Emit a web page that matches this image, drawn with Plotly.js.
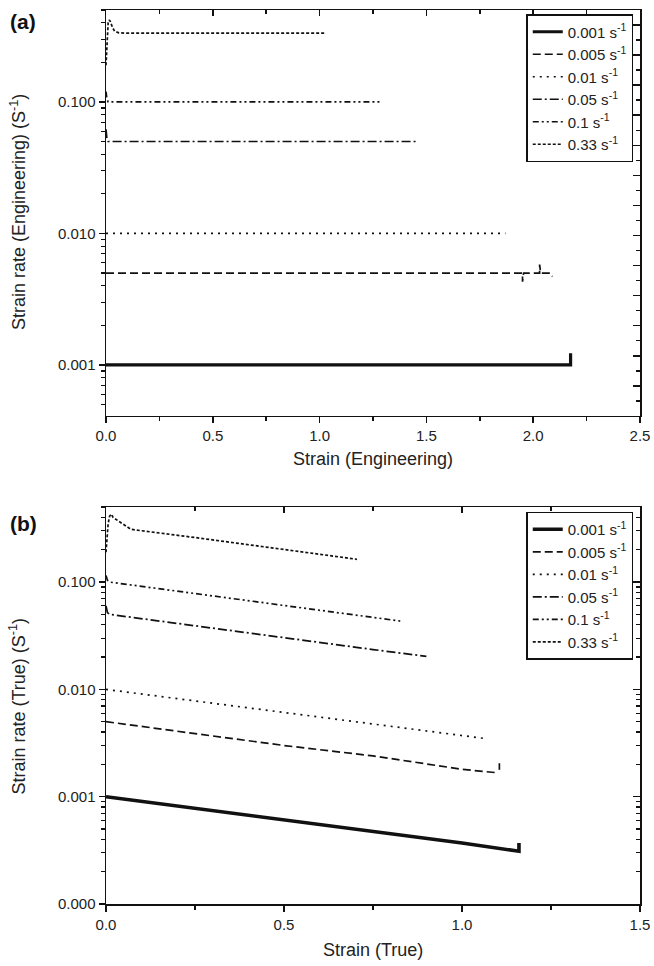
<!DOCTYPE html>
<html>
<head>
<meta charset="utf-8">
<script src="https://cdn.plot.ly/plotly-3.0.1.min.js"></script>
<style>
html,body{margin:0;padding:0;background:#fff;}
#chart{width:654px;height:966px;}
</style>
</head>
<body>
<div id="chart"></div>
<script>
// ---------- data ----------
const rateNames = ['0.001 s<sup>-1</sup>', '0.005 s<sup>-1</sup>', '0.01 s<sup>-1</sup>',
                   '0.05 s<sup>-1</sup>', '0.1 s<sup>-1</sup>', '0.33 s<sup>-1</sup>'];

// (a) engineering strain vs engineering strain rate
const engX_0001 = [0, 0.5, 1.0, 1.5, 2.0, 2.175, 2.175];
const engY_0001 = [0.001, 0.001, 0.001, 0.001, 0.001, 0.001, 0.00123];
const engX_0005 = [0, 0.5, 1.0, 1.5, 1.95, 1.95, 1.955, 2.03, 2.03, 2.035, 2.08, 2.09];
const engY_0005 = [0.005, 0.005, 0.005, 0.005, 0.005, 0.0043, 0.005, 0.005, 0.0058, 0.005, 0.005, 0.0047];
const engX_001 = [0, 0.5, 1.0, 1.5, 1.87];
const engY_001 = [0.01, 0.01, 0.01, 0.01, 0.01];
const engX_005 = [0, 0.004, 0.01, 0.5, 1.0, 1.46];
const engY_005 = [0.062, 0.053, 0.05, 0.05, 0.05, 0.05];
const engX_01 = [0, 0.004, 0.01, 0.5, 1.0, 1.29];
const engY_01 = [0.12, 0.106, 0.1, 0.1, 0.1, 0.1];
const engX_033 = [0, 0.003, 0.006, 0.01, 0.015, 0.02, 0.03, 0.04, 0.06, 0.1, 0.5, 1.03];
const engY_033 = [0.19, 0.26, 0.34, 0.40, 0.42, 0.41, 0.37, 0.345, 0.335, 0.333, 0.333, 0.333];

// (b) true strain vs true strain rate
const trueX_0001 = [0, 0.25, 0.5, 0.75, 1.0, 1.16, 1.16];
const trueY_0001 = [0.001, 0.00078, 0.00061, 0.00047, 0.00037, 0.00031, 0.00037];
const trueX_0005 = [0, 0.25, 0.5, 0.75, 1.0, 1.10, null, 1.105, 1.105];
const trueY_0005 = [0.005, 0.0039, 0.0030, 0.0024, 0.0018, 0.00167, null, 0.00178, 0.00205];
const trueX_001 = [0, 0.25, 0.5, 0.75, 1.0, 1.06];
const trueY_001 = [0.01, 0.0078, 0.0061, 0.0047, 0.0037, 0.0035];
const trueX_005 = [0, 0.004, 0.01, 0.25, 0.5, 0.75, 0.90];
const trueY_005 = [0.06, 0.052, 0.05, 0.039, 0.030, 0.0235, 0.0203];
const trueX_01 = [0, 0.004, 0.01, 0.25, 0.5, 0.75, 0.834];
const trueY_01 = [0.115, 0.104, 0.1, 0.078, 0.061, 0.047, 0.043];
const trueX_033 = [0, 0.003, 0.006, 0.01, 0.015, 0.02, 0.04, 0.07, 0.25, 0.5, 0.705];
const trueY_033 = [0.19, 0.27, 0.35, 0.41, 0.43, 0.40, 0.36, 0.31, 0.26, 0.20, 0.163];

const engX = [engX_0001, engX_0005, engX_001, engX_005, engX_01, engX_033];
const engY = [engY_0001, engY_0005, engY_001, engY_005, engY_01, engY_033];
const trueX = [trueX_0001, trueX_0005, trueX_001, trueX_005, trueX_01, trueX_033];
const trueY = [trueY_0001, trueY_0005, trueY_001, trueY_005, trueY_01, trueY_033];

// ---------- styles ----------
const dashes = ['solid', '8px,4px', '2px,5px', '9px,3px,2px,3px', '6px,3px,2px,3px,2px,3px', '3px,2px'];
const widthsA = [3.2, 1.7, 1.7, 1.7, 1.7, 1.7];
const widthsB = [3.6, 1.7, 1.7, 1.7, 1.7, 1.7];
const ink = '#111';
const font = 'Liberation Sans, Arial, Helvetica, sans-serif';

const traces = [];
for (let i = 0; i < 6; i++) {
  traces.push({
    x: engX[i], y: engY[i], xaxis: 'x', yaxis: 'y', type: 'scatter', mode: 'lines',
    name: rateNames[i], legend: 'legend', connectgaps: false,
    line: {color: ink, width: widthsA[i], dash: dashes[i]}
  });
}
for (let i = 0; i < 6; i++) {
  traces.push({
    x: trueX[i], y: trueY[i], xaxis: 'x2', yaxis: 'y2', type: 'scatter', mode: 'lines',
    name: rateNames[i], legend: 'legend2', connectgaps: false,
    line: {color: ink, width: widthsB[i], dash: dashes[i]}
  });
}
// empty helpers so the mirrored (top/right) tick axes are drawn
traces.push({x: [null], y: [null], xaxis: 'x3', yaxis: 'y', showlegend: false, hoverinfo: 'skip', mode: 'lines'});
traces.push({x: [null], y: [null], xaxis: 'x', yaxis: 'y3', showlegend: false, hoverinfo: 'skip', mode: 'lines'});
traces.push({x: [null], y: [null], xaxis: 'x4', yaxis: 'y2', showlegend: false, hoverinfo: 'skip', mode: 'lines'});
traces.push({x: [null], y: [null], xaxis: 'x2', yaxis: 'y4', showlegend: false, hoverinfo: 'skip', mode: 'lines'});

// minor tick positions for log axes (2..9 in each decade)
const logMinor = [];
for (let d = -5; d <= 0; d++) for (let m = 2; m <= 9; m++) logMinor.push(m * Math.pow(10, d));

const tickFont = {family: font, size: 15, color: '#222'};
const baseX = {
  showgrid: false, zeroline: false, showline: true, linewidth: 1.5, linecolor: ink, mirror: true,
  ticks: 'outside', ticklen: 6, tickwidth: 1.5, tickcolor: ink, dtick: 0.5, tickformat: '.1f',
  minor: {dtick: 0.25, ticks: 'outside', ticklen: 4, tickwidth: 1.5, tickcolor: ink, showgrid: false},
  tickfont: tickFont
};
const baseY = {
  type: 'log', showgrid: false, zeroline: false, showline: true, linewidth: 1.5, linecolor: ink, mirror: true,
  ticks: 'outside', ticklen: 6, tickwidth: 1.5, tickcolor: ink, dtick: 1, tickformat: '.3f',
  minor: {tickmode: 'array', tickvals: logMinor, ticks: 'outside', ticklen: 4, tickwidth: 1.2, tickcolor: ink, showgrid: false},
  tickfont: tickFont
};
const topX = {
  showgrid: false, zeroline: false, showline: false, showticklabels: false,
  ticks: 'inside', ticklen: 6, tickwidth: 1.5, tickcolor: ink, dtick: 0.5,
  minor: {dtick: 0.25, ticks: 'inside', ticklen: 4, tickwidth: 1.5, tickcolor: ink, showgrid: false}
};

const yRangeA = [Math.log10(0.00041), Math.log10(0.5)];
const yRangeB = [-4, Math.log10(0.5)];

const layout = {
  width: 654, height: 966,
  margin: {l: 106, r: 14, t: 10, b: 62},
  paper_bgcolor: '#fff', plot_bgcolor: '#fff',
  font: {family: font, color: '#222'},
  showlegend: true,
  xaxis: Object.assign({}, baseX, {domain: [0, 1], anchor: 'y', range: [0, 2.5]}),
  yaxis: Object.assign({}, baseY, {domain: [0.546, 1], anchor: 'x', range: yRangeA}),
  xaxis2: Object.assign({}, baseX, {domain: [0, 1], anchor: 'y2', range: [0, 1.5]}),
  yaxis2: Object.assign({}, baseY, {domain: [0, 0.444], anchor: 'x2', range: yRangeB}),
  xaxis3: Object.assign({}, topX, {overlaying: 'x', side: 'top', anchor: 'y', range: [0, 2.5]}),
  xaxis4: Object.assign({}, topX, {overlaying: 'x2', side: 'top', anchor: 'y2', range: [0, 1.5]}),
  yaxis3: {overlaying: 'y', side: 'right', anchor: 'x', range: [0, 27], showgrid: false, zeroline: false,
           showline: false, showticklabels: false, ticks: 'inside', ticklen: 7, tickwidth: 1.5, tickcolor: ink, dtick: 2,
           minor: {dtick: 1, ticks: 'inside', ticklen: 4, tickwidth: 1.5, tickcolor: ink, showgrid: false}},
  yaxis4: {overlaying: 'y2', side: 'right', anchor: 'x2', type: 'log', range: yRangeB, showgrid: false, zeroline: false,
           showline: false, showticklabels: false, ticks: 'inside', ticklen: 7, tickwidth: 1.5, tickcolor: ink, dtick: 1,
           minor: {tickmode: 'array', tickvals: logMinor, ticks: 'inside', ticklen: 4, tickwidth: 1.2, tickcolor: ink, showgrid: false}},
  legend: {x: 0.787, xanchor: 'left', y: 0.9955, yanchor: 'top', bgcolor: '#fff', bordercolor: ink, borderwidth: 1.5,
           font: {family: font, size: 15, color: '#222'}, itemwidth: 30, tracegroupgap: 0},
  legend2: {x: 0.787, xanchor: 'left', y: 0.439, yanchor: 'top', bgcolor: '#fff', bordercolor: ink, borderwidth: 1.5,
            font: {family: font, size: 15, color: '#222'}, itemwidth: 30, tracegroupgap: 0},
  annotations: [
    {text: '<b>(a)</b>', xref: 'paper', yref: 'paper', x: -0.1835, y: 0.9866, xanchor: 'left', yanchor: 'middle',
     showarrow: false, font: {family: font, size: 21, color: '#111'}},
    {text: '<b>(b)</b>', xref: 'paper', yref: 'paper', x: -0.1835, y: 0.426, xanchor: 'left', yanchor: 'middle',
     showarrow: false, font: {family: font, size: 21, color: '#111'}},
    {text: 'Strain (Engineering)', xref: 'paper', yref: 'paper', x: 0.5, y: 0.4978, xanchor: 'center', yanchor: 'middle',
     showarrow: false, font: {family: font, size: 18, color: '#222'}},
    {text: 'Strain (True)', xref: 'paper', yref: 'paper', x: 0.5, y: -0.0515, xanchor: 'center', yanchor: 'middle',
     showarrow: false, font: {family: font, size: 18, color: '#222'}},
    {text: 'Strain rate (Engineering) (S<sup>-1</sup>)', xref: 'paper', yref: 'paper', x: -0.1648, y: 0.774,
     xanchor: 'center', yanchor: 'middle', textangle: -90, showarrow: false, font: {family: font, size: 18, color: '#222'}},
    {text: 'Strain rate (True) (S<sup>-1</sup>)', xref: 'paper', yref: 'paper', x: -0.1648, y: 0.222,
     xanchor: 'center', yanchor: 'middle', textangle: -90, showarrow: false, font: {family: font, size: 18, color: '#222'}}
  ]
};

Plotly.newPlot('chart', traces, layout, {displayModeBar: false, staticPlot: true});
</script>
</body>
</html>
